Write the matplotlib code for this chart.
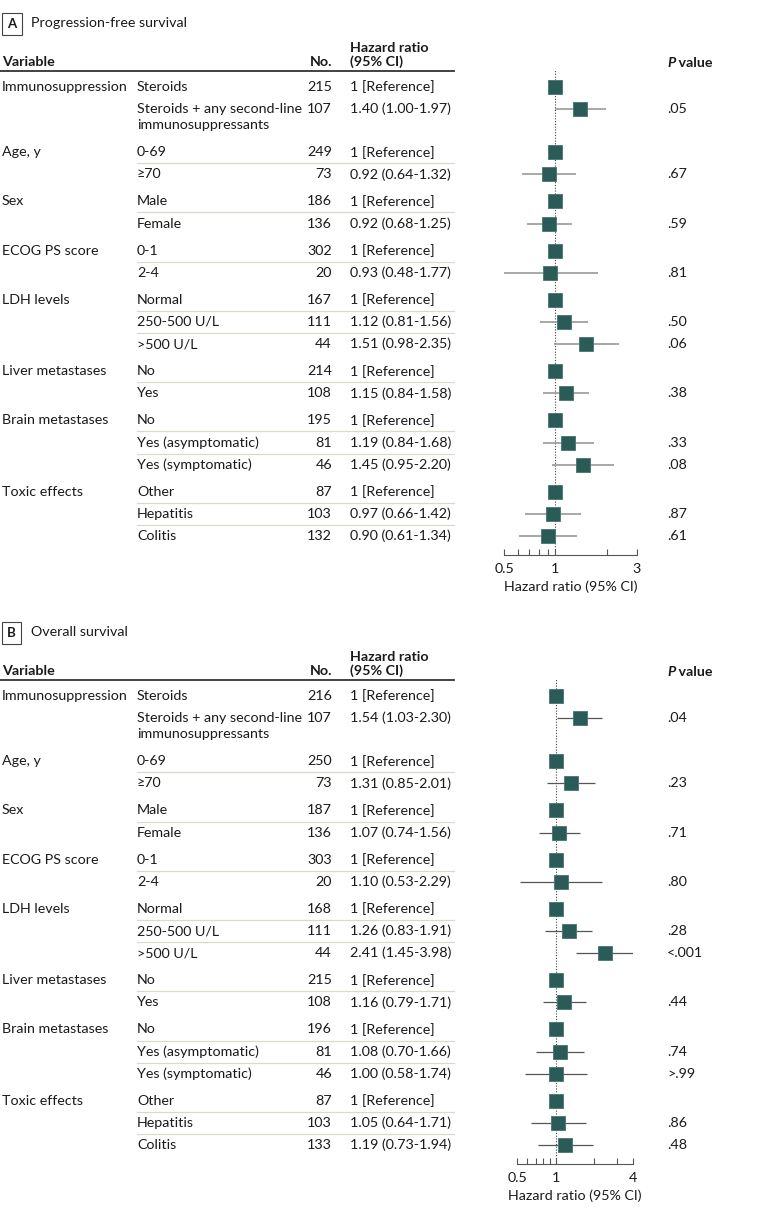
import numpy as np
import matplotlib
matplotlib.use("Agg")
import matplotlib.pyplot as plt

plt.rcParams['font.family'] = ['Lato', 'DejaVu Sans']

nan = np.nan

variables = ["Immunosuppression", "Age, y", "Sex", "ECOG PS score", "LDH levels",
             "Liver metastases", "Brain metastases", "Toxic effects"]
subgroups = [["Steroids", "Steroids + any second-line\nimmunosuppressants"],
             ["0-69", "≥70"],
             ["Male", "Female"],
             ["0-1", "2-4"],
             ["Normal", "250-500 U/L", ">500 U/L"],
             ["No", "Yes"],
             ["No", "Yes (asymptomatic)", "Yes (symptomatic)"],
             ["Other", "Hepatitis", "Colitis"]]

# panel A: progression-free survival
pfs_n = [215, 107, 249, 73, 186, 136, 302, 20, 167, 111, 44, 214, 108, 195, 81, 46, 87, 103, 132]
pfs_hr = [1, 1.40, 1, 0.92, 1, 0.92, 1, 0.93, 1, 1.12, 1.51, 1, 1.15, 1, 1.19, 1.45, 1, 0.97, 0.90]
pfs_lo = [nan, 1.00, nan, 0.64, nan, 0.68, nan, 0.48, nan, 0.81, 0.98, nan, 0.84, nan, 0.84, 0.95, nan, 0.66, 0.61]
pfs_hi = [nan, 1.97, nan, 1.32, nan, 1.25, nan, 1.77, nan, 1.56, 2.35, nan, 1.58, nan, 1.68, 2.20, nan, 1.42, 1.34]
pfs_p = ["", ".05", "", ".67", "", ".59", "", ".81", "", ".50", ".06", "", ".38", "", ".33", ".08", "", ".87", ".61"]

# panel B: overall survival
os_n = [216, 107, 250, 73, 187, 136, 303, 20, 168, 111, 44, 215, 108, 196, 81, 46, 87, 103, 133]
os_hr = [1, 1.54, 1, 1.31, 1, 1.07, 1, 1.10, 1, 1.26, 2.41, 1, 1.16, 1, 1.08, 1.00, 1, 1.05, 1.19]
os_lo = [nan, 1.03, nan, 0.85, nan, 0.74, nan, 0.53, nan, 0.83, 1.45, nan, 0.79, nan, 0.70, 0.58, nan, 0.64, 0.73]
os_hi = [nan, 2.30, nan, 2.01, nan, 1.56, nan, 2.29, nan, 1.91, 3.98, nan, 1.71, nan, 1.66, 1.74, nan, 1.71, 1.94]
os_p = ["", ".04", "", ".23", "", ".71", "", ".80", "", ".28", "<.001", "", ".44", "", ".74", ">.99", "", ".86", ".48"]

TEXT = '#1a1a1a'
BOX = '#2b5b57'
FS = 10.3

W, H = 780, 1220
fig = plt.figure(figsize=(W / 100, H / 100), dpi=100)
canvas = fig.add_axes([0, 0, 1, 1])
canvas.set_xlim(0, W)
canvas.set_ylim(H, 0)
canvas.axis('off')


def row_positions(y0, step=22.2, gap=27, extra=16):
    ys = []
    y = y0
    for g, subs in enumerate(subgroups):
        if g > 0:
            y += gap
        for k, s in enumerate(subs):
            if k > 0:
                y += step
            ys.append(y)
            if "\n" in s:
                y += extra
    return ys


def panel(off, letter, title, n, hr, lo, hi, pv, xmax, ax_left, ax_right, ci_color, ci_lw, minor):
    ys = row_positions(87 + off)

    # title
    canvas.text(7, 24 + off, letter, fontsize=9.5, fontweight='bold', color=TEXT, ha='left', va='center',
                bbox=dict(boxstyle='square,pad=0.4', fc='white', ec='#444', lw=0.8))
    canvas.text(31, 23 + off, title, fontsize=FS, color=TEXT, ha='left', va='center')

    # header
    canvas.text(2, 62 + off, "Variable", fontsize=FS, fontweight='bold', color=TEXT, va='center')
    canvas.text(332, 62 + off, "No.", fontsize=FS, fontweight='bold', color=TEXT, va='center', ha='right')
    canvas.text(350, 48 + off, "Hazard ratio", fontsize=FS, fontweight='bold', color=TEXT, va='center')
    canvas.text(350, 62 + off, "(95% CI)", fontsize=FS, fontweight='bold', color=TEXT, va='center')
    ptxt = canvas.text(667, 63 + off, "P", fontsize=FS, fontweight='bold', fontstyle='italic',
                       color=TEXT, va='center')
    canvas.annotate(" value", xy=(1, 0), xycoords=ptxt, fontsize=FS, fontweight='bold',
                    color=TEXT, va='bottom')
    canvas.plot([0, 454], [71 + off, 71 + off], color='#333', lw=1.3)

    # table rows
    i = 0
    for g, subs in enumerate(subgroups):
        canvas.text(2, ys[i], variables[g], fontsize=FS, color=TEXT, va='center')
        for k, s in enumerate(subs):
            y = ys[i + k]
            for j, line in enumerate(s.split("\n")):
                canvas.text(137, y + 16 * j, line, fontsize=FS, color=TEXT, va='center')
            canvas.text(332, y, str(n[i + k]), fontsize=FS, color=TEXT, va='center', ha='right')
            if np.isnan(lo[i + k]):
                label = "1 [Reference]"
            else:
                label = f"{hr[i + k]:.2f} ({lo[i + k]:.2f}-{hi[i + k]:.2f})"
            canvas.text(350, y, label, fontsize=FS, color=TEXT, va='center')
            if pv[i + k]:
                canvas.text(667, y, pv[i + k], fontsize=FS, color=TEXT, va='center')
            if k > 0 and g > 0:
                ysep = (ys[i + k - 1] + y) / 2
                canvas.plot([137, 454], [ysep, ysep], color='#dcd9cc', lw=0.9)
        i += len(subs)

    # forest plot
    top, bottom = 70 + off, 555 + off
    ax = fig.add_axes([ax_left / W, 1 - bottom / H, (ax_right - ax_left) / W, (bottom - top) / H])
    ax.set_facecolor('none')
    ax.set_xscale('log')
    ax.set_xlim(0.5, xmax)
    ax.set_ylim(bottom, top)
    ax.axvline(1, color='#444', lw=0.8, ls=(0, (1, 1.5)), zorder=1)
    for y, h, l, u in zip(ys, hr, lo, hi):
        if not np.isnan(l):
            ax.plot([l, u], [y, y], color=ci_color, lw=ci_lw, zorder=2, solid_capstyle='butt')
        ax.plot([h], [y], marker='s', ms=10, color=BOX, mec='#47746f', mew=0.6, zorder=3)
    for s in ['top', 'left', 'right']:
        ax.spines[s].set_visible(False)
    ax.spines['bottom'].set_color('#555')
    ax.spines['bottom'].set_linewidth(0.8)
    ax.set_yticks([])
    ax.set_xticks([0.5, 1, xmax])
    ax.set_xticklabels(["0.5", "1", f"{xmax:g}"])
    ax.set_xticks(minor, minor=True)
    ax.xaxis.set_minor_formatter(matplotlib.ticker.NullFormatter())
    ax.tick_params(axis='x', which='both', direction='in', length=4, width=0.8, color='#555',
                   labelsize=FS, labelcolor=TEXT, pad=6)
    ax.set_xlabel("Hazard ratio (95% CI)", fontsize=FS, color=TEXT, labelpad=4)


panel(0, "A", "Progression-free survival", pfs_n, pfs_hr, pfs_lo, pfs_hi, pfs_p,
      3, 504, 637, '#9a9a9a', 1.2, [0.6, 0.7, 0.8, 0.9, 2])
panel(609, "B", "Overall survival", os_n, os_hr, os_lo, os_hi, os_p,
      4, 517, 633, '#555555', 0.9, [0.6, 0.7, 0.8, 0.9, 2, 3])

fig.savefig("out.png", dpi=100, facecolor='white')
